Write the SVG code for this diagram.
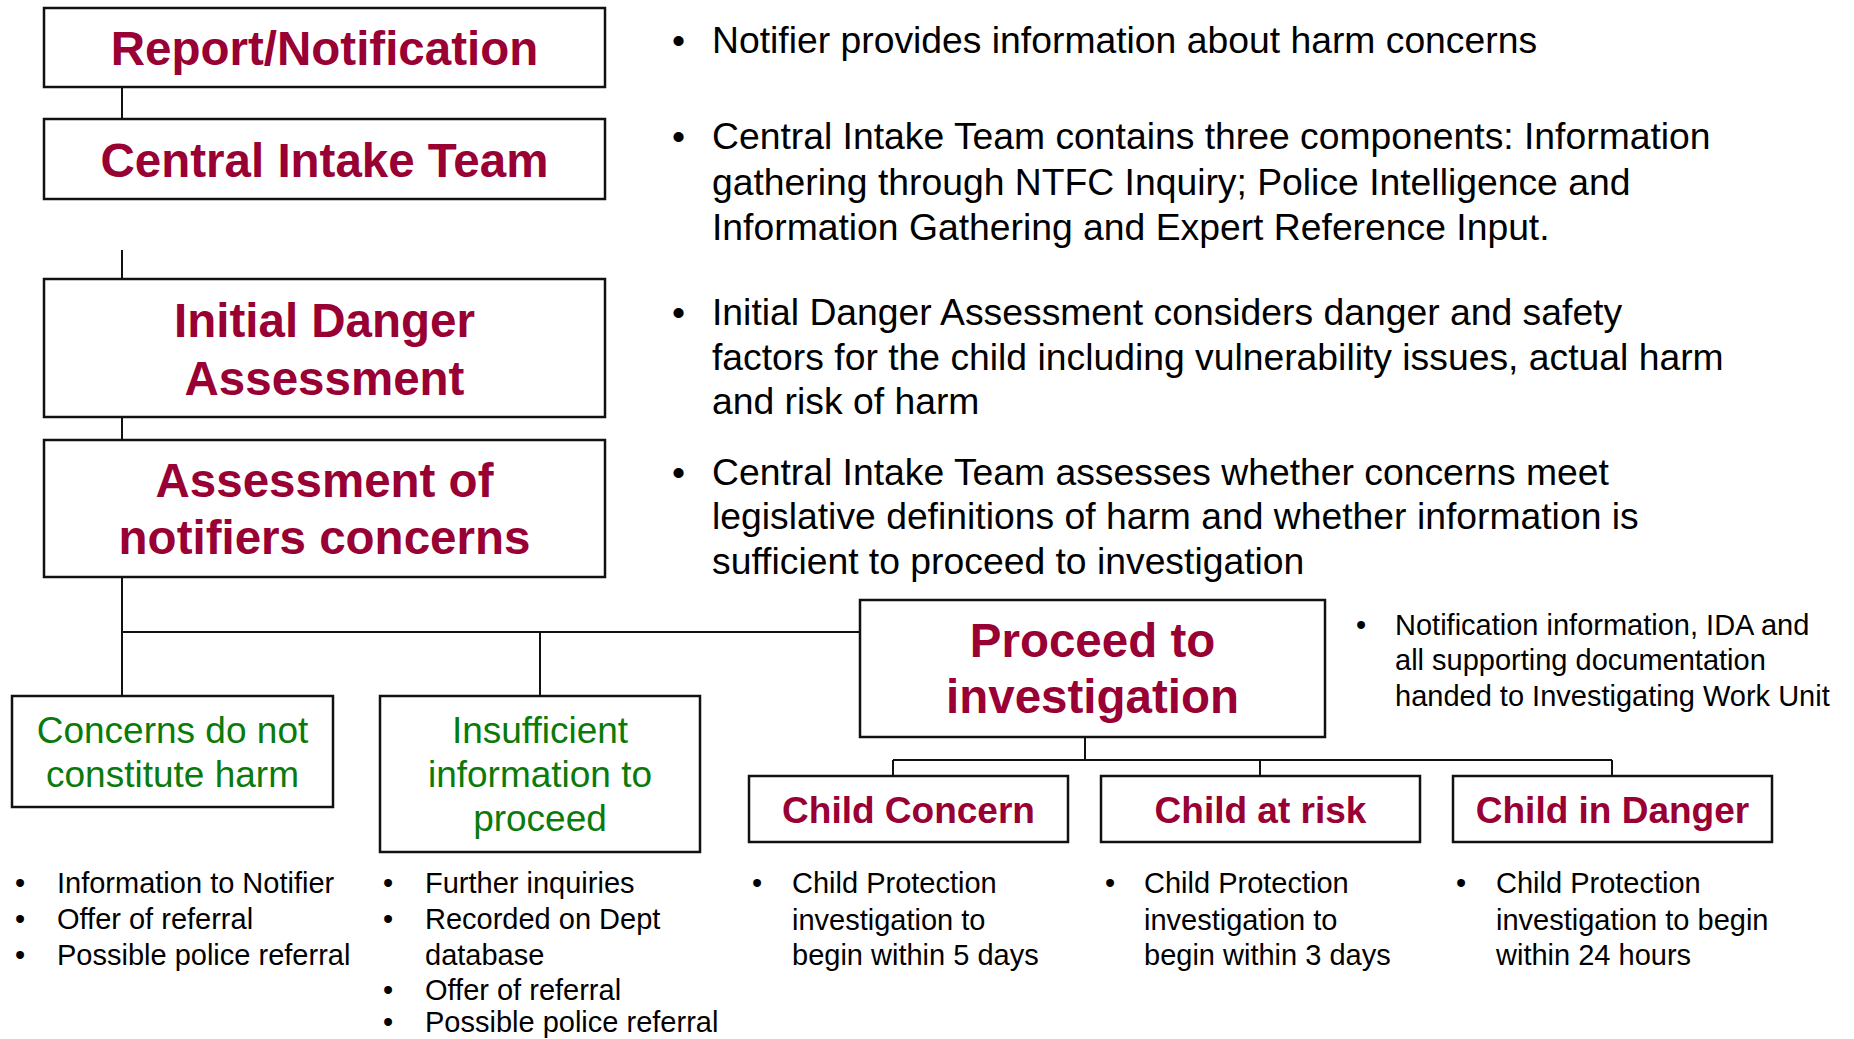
<svg xmlns="http://www.w3.org/2000/svg" width="1854" height="1039" viewBox="0 0 1854 1039">
<style>
.box{fill:#ffffff;stroke:#111111;stroke-width:2.5}
.con{fill:none;stroke:#111111;stroke-width:2}
.t{font-family:"Liberation Sans",Arial,sans-serif;font-weight:bold;fill:#990033;text-anchor:middle}
.big{font-size:47.5px}
.mid{font-size:37px}
.g{font-family:"Liberation Sans",Arial,sans-serif;font-size:37px;fill:#0a7a0a;text-anchor:middle}
.b{font-family:"Liberation Sans",Arial,sans-serif;font-size:37.3px;fill:#000000}
.s{font-family:"Liberation Sans",Arial,sans-serif;font-size:29px;fill:#000000}
</style>
<rect width="1854" height="1039" fill="#ffffff"/>
<g id="connectors">
<path class="con" d="M122 87V119"/>
<path class="con" d="M122 250V279"/>
<path class="con" d="M122 417V440"/>
<path class="con" d="M122 577V696"/>
<path class="con" d="M122 632H860"/>
<path class="con" d="M540 632V696"/>
<path class="con" d="M1085 737V760"/>
<path class="con" d="M893 760H1612"/>
<path class="con" d="M893 760V776M1260 760V776M1612 760V776"/>
</g>
<g id="report">
<rect class="box" x="44" y="8" width="561" height="79"/>
<text class="t big" x="324.5" y="65">Report/Notification</text>
</g>
<g id="central-intake">
<rect class="box" x="44" y="119" width="561" height="80"/>
<text class="t big" x="324.5" y="177">Central Intake Team</text>
</g>
<g id="initial-danger">
<rect class="box" x="44" y="279" width="561" height="138"/>
<text class="t big" x="324.5" y="337">Initial Danger</text>
<text class="t big" x="324.5" y="395">Assessment</text>
</g>
<g id="assessment">
<rect class="box" x="44" y="440" width="561" height="137"/>
<text class="t big" x="324.5" y="497">Assessment of</text>
<text class="t big" x="324.5" y="554">notifiers concerns</text>
</g>
<g id="no-harm">
<rect class="box" x="12" y="696" width="321" height="111"/>
<text class="g" x="172.5" y="743">Concerns do not</text>
<text class="g" x="172.5" y="787">constitute harm</text>
</g>
<g id="insufficient">
<rect class="box" x="380" y="696" width="320" height="156"/>
<text class="g" x="540" y="743">Insufficient</text>
<text class="g" x="540" y="787">information to</text>
<text class="g" x="540" y="831">proceed</text>
</g>
<g id="proceed">
<rect class="box" x="860" y="600" width="465" height="137"/>
<text class="t big" x="1092.5" y="657">Proceed to</text>
<text class="t big" x="1092.5" y="713">investigation</text>
</g>
<g id="child-concern">
<rect class="box" x="749" y="776" width="319" height="66"/>
<text class="t mid" x="908.5" y="823">Child Concern</text>
</g>
<g id="child-at-risk">
<rect class="box" x="1101" y="776" width="319" height="66"/>
<text class="t mid" x="1260.5" y="823">Child at risk</text>
</g>
<g id="child-in-danger">
<rect class="box" x="1453" y="776" width="319" height="66"/>
<text class="t mid" x="1612.5" y="823">Child in Danger</text>
</g>
<g id="notes-right">
<text class="b" x="672" y="53">•</text>
<text class="b" x="712" y="53">Notifier provides information about harm concerns</text>
<text class="b" x="672" y="149">•</text>
<text class="b" x="712" y="149">Central Intake Team contains three components: Information</text>
<text class="b" x="712" y="195">gathering through NTFC Inquiry; Police Intelligence and</text>
<text class="b" x="712" y="240">Information Gathering and Expert Reference Input.</text>
<text class="b" x="672" y="325">•</text>
<text class="b" x="712" y="325">Initial Danger Assessment considers danger and safety</text>
<text class="b" x="712" y="370">factors for the child including vulnerability issues, actual harm</text>
<text class="b" x="712" y="414">and risk of harm</text>
<text class="b" x="672" y="485">•</text>
<text class="b" x="712" y="485">Central Intake Team assesses whether concerns meet</text>
<text class="b" x="712" y="529">legislative definitions of harm and whether information is</text>
<text class="b" x="712" y="574">sufficient to proceed to investigation</text>
</g>
<g id="notes-proceed">
<text class="s" x="1356" y="635">•</text>
<text class="s" x="1395" y="635">Notification information, IDA and</text>
<text class="s" x="1395" y="670">all supporting documentation</text>
<text class="s" x="1395" y="706">handed to Investigating Work Unit</text>
</g>
<g id="notes-bottom">
<text class="s" x="15" y="893">•</text>
<text class="s" x="57" y="893">Information to Notifier</text>
<text class="s" x="15" y="929">•</text>
<text class="s" x="57" y="929">Offer of referral</text>
<text class="s" x="15" y="965">•</text>
<text class="s" x="57" y="965">Possible police referral</text>
<text class="s" x="383" y="893">•</text>
<text class="s" x="425" y="893">Further inquiries</text>
<text class="s" x="383" y="929">•</text>
<text class="s" x="425" y="929">Recorded on Dept</text>
<text class="s" x="425" y="965">database</text>
<text class="s" x="383" y="1000">•</text>
<text class="s" x="425" y="1000">Offer of referral</text>
<text class="s" x="383" y="1032">•</text>
<text class="s" x="425" y="1032">Possible police referral</text>
<text class="s" x="752" y="893">•</text>
<text class="s" x="792" y="893">Child Protection</text>
<text class="s" x="792" y="930">investigation to</text>
<text class="s" x="792" y="965">begin within 5 days</text>
<text class="s" x="1105" y="893">•</text>
<text class="s" x="1144" y="893">Child Protection</text>
<text class="s" x="1144" y="930">investigation to</text>
<text class="s" x="1144" y="965">begin within 3 days</text>
<text class="s" x="1456" y="893">•</text>
<text class="s" x="1496" y="893">Child Protection</text>
<text class="s" x="1496" y="930">investigation to begin</text>
<text class="s" x="1496" y="965">within 24 hours</text>
</g>
</svg>
